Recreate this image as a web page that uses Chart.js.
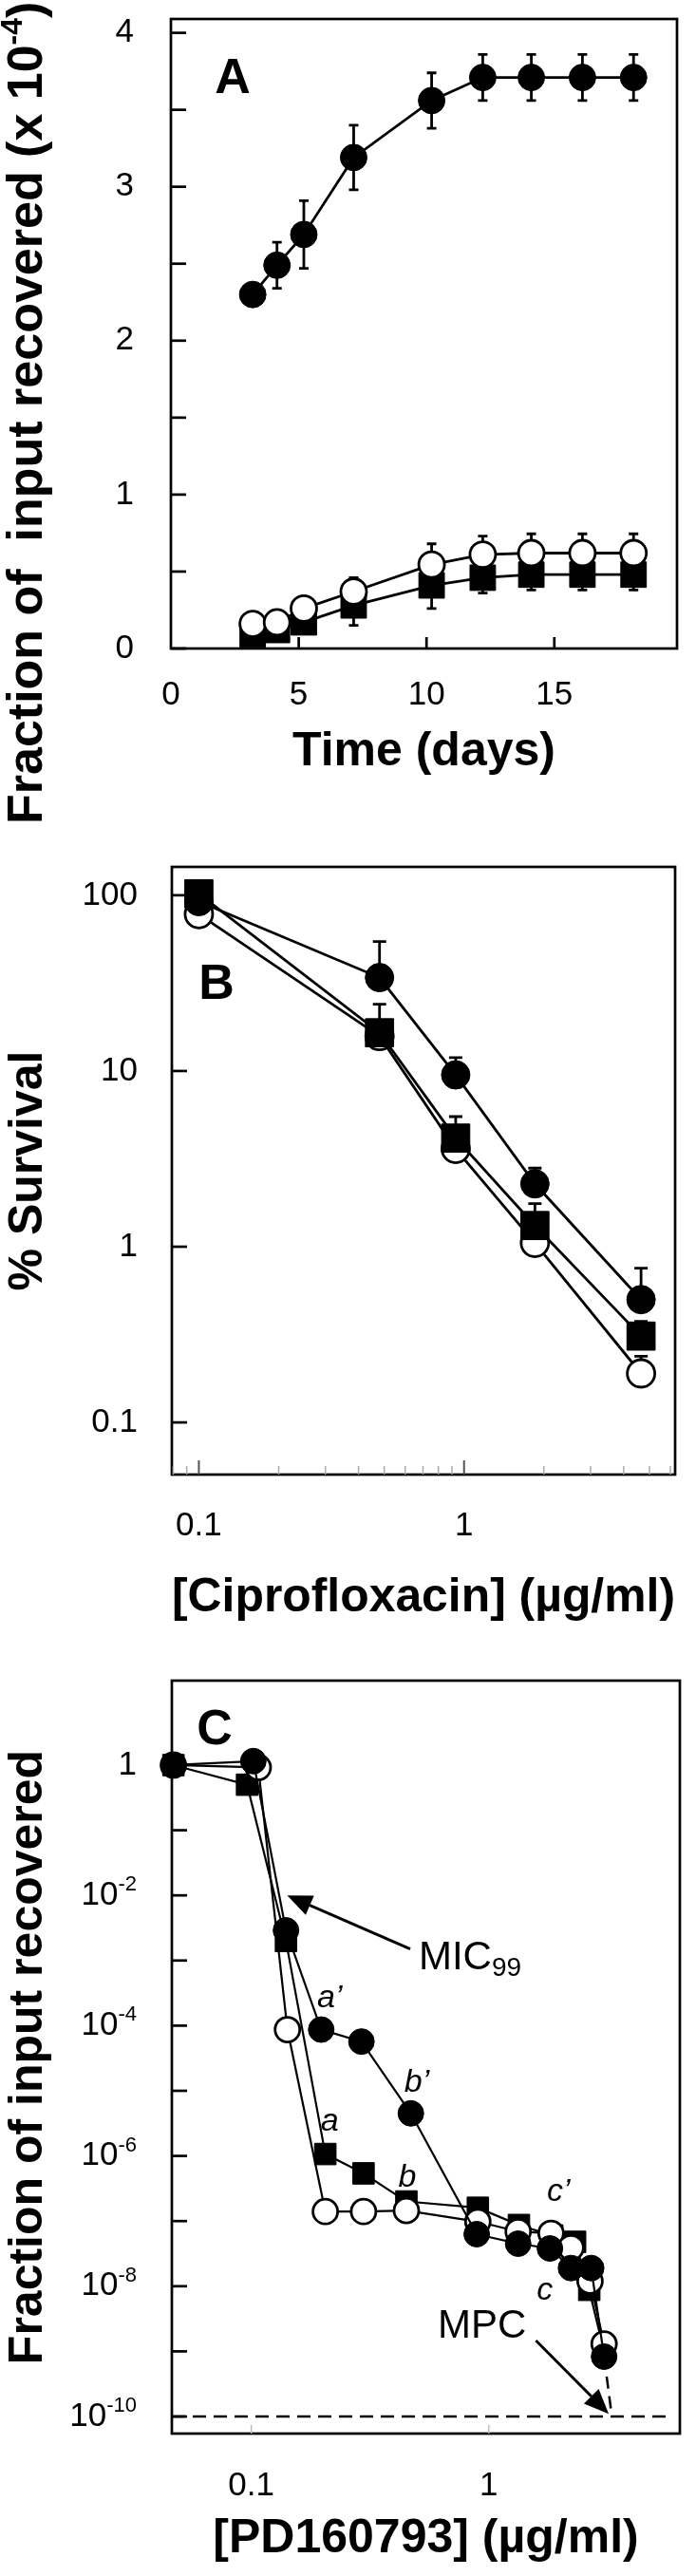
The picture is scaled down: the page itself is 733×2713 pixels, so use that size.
<!DOCTYPE html>
<html lang="en">
<head>
<meta charset="utf-8">
<title>Fraction of input recovered / % survival / MPC</title>
<script src="https://cdn.jsdelivr.net/npm/chart.js@4.4.1/dist/chart.umd.min.js"></script>
<style>
  html, body { margin: 0; padding: 0; background: #ffffff; }
  #page { position: relative; width: 733px; height: 2713px; overflow: hidden; }
  #page canvas { position: absolute; left: 0; display: block; }
  #chart-a { top: 0; }
  #chart-b { top: 880px; }
  #chart-c { top: 1750px; }
</style>
</head>
<body>
<div id="page">
  <canvas id="chart-a" width="733" height="880" style="width:733px;height:880px"></canvas>
  <canvas id="chart-b" width="733" height="870" style="width:733px;height:870px"></canvas>
  <canvas id="chart-c" width="733" height="963" style="width:733px;height:963px"></canvas>
</div>
<script>
// ---- panel A: recovery over time (x 10^-4) ----
var daysA = [3.2, 4.15, 5.2, 7.15, 10.2, 12.2, 14.1, 16.1, 18.1];
var filledA = [2.30, 2.49, 2.69, 3.19, 3.56, 3.71, 3.71, 3.71, 3.71];
var filledAErr = [0, 0.15, 0.22, 0.21, 0.18, 0.15, 0.15, 0.15, 0.15];
var openA = [0.16, 0.17, 0.26, 0.37, 0.545, 0.61, 0.62, 0.62, 0.62];
var openAErrUp = [0, 0, 0, 0.09, 0.135, 0.12, 0.125, 0.125, 0.125];
var squareA = [0.09, 0.12, 0.17, 0.28, 0.41, 0.46, 0.48, 0.48, 0.48];
var squareAErrDown = [0, 0, 0, 0.13, 0.15, 0.10, 0.10, 0.10, 0.10];
var xTicksA = [0, 5, 10, 15];
var xLabelsA = ["0", "5", "10", "15"];
var yTicksA = [0, 0.5, 1, 1.5, 2, 2.5, 3, 3.5, 4];
var yLabelsA = ["0", "", "1", "", "2", "", "3", "", "4"];

// ---- panel B: % survival vs ciprofloxacin ----
var concB = [0.1, 0.48, 0.93, 1.85, 4.65];
var filledB = [92, 34, 9.5, 2.28, 0.50];
var filledBErr = [0, 20.5, 2.4, 0.52, 0.255];
var squareB = [102, 16.5, 4.15, 1.32, 0.31];
var squareBErr = [0, 7.5, 1.35, 0.44, 0.066];
var openB = [78, 15.8, 3.6, 1.05, 0.19];
var openBErr = [0, 0, 0, 0, 0.048];
var xTicksB = [0.08, 0.09, 0.1, 0.2, 0.3, 0.4, 0.5, 0.6, 0.7, 0.8, 0.9, 1, 2, 3, 4, 5, 6];
var xMajorB = [0.1, 1];
var xLabelsB = ["0.1", "1"];
var yTicksB = [0.1, 1, 10, 100];
var yLabelsB = ["0.1", "1", "10", "100"];

// ---- panel C: fraction recovered vs PD160793 ----
var concFilledC = [0.047, 0.102, 0.14, 0.197, 0.291, 0.47, 0.89, 1.33, 1.81, 2.22, 2.70, 3.06];
var filledC = [1.0, 1.15, 2.9e-3, 8.7e-5, 5.7e-5, 4.5e-6, 6.3e-8, 4.5e-8, 3.8e-8, 1.9e-8, 1.9e-8, 8.3e-10];
var concOpenC = [0.047, 0.107, 0.142, 0.205, 0.297, 0.45, 0.90, 1.33, 1.83, 2.22, 2.67, 3.06];
var openC = [1.0, 0.92, 8.7e-5, 1.4e-7, 1.4e-7, 1.45e-7, 9.8e-8, 6.9e-8, 6.5e-8, 3.9e-8, 1.2e-8, 1.3e-9];
var concSquareC = [0.047, 0.096, 0.14, 0.205, 0.297, 0.45, 0.90, 1.34, 1.85, 2.31, 2.65, 3.06];
var squareC = [1.0, 0.5, 2.0e-3, 1.07e-6, 5.4e-7, 2.0e-7, 1.6e-7, 8.7e-8, 6.0e-8, 4.8e-8, 8.8e-9, 1.0e-9];
var mpcLevel = 1e-10;
var mpcConc = 3.3;
var mpcLineEnd = 5.7;
var xTicksC = [0.1, 1];
var xLabelsC = ["0.1", "1"];
var yTicksC = [1e-10, 1e-9, 1e-8, 1e-7, 1e-6, 1e-5, 1e-4, 1e-3, 1e-2, 1e-1, 1];
var yLabelExpC = [-10, -8, -6, -4, -2, 0];

var FONT = "'Liberation Sans', Arial, Helvetica, sans-serif";
var tickFont = { family: FONT, size: 35 };
var titleFont = { family: FONT, size: 50, weight: "bold" };

function pts(xs, ys) {
  return xs.map(function (x, i) { return { x: x, y: ys[i] }; });
}
function setTicks(values) {
  return function (scale) { scale.ticks = values.map(function (v) { return { value: v }; }); };
}
function labelFrom(values, labels) {
  return function (v) {
    for (var i = 0; i < values.length; i++) {
      if (Math.abs(values[i] - v) <= Math.abs(values[i]) * 1e-6 + 1e-12) return labels[i];
    }
    return "";
  };
}
function fixWidth(w) {
  return function (s) { s.width = w; s.paddingTop = 0; s.paddingBottom = 0; s.paddingLeft = 0; s.paddingRight = 0; };
}
function fixHeight(h) {
  return function (s) { s.height = h; s.paddingTop = 0; s.paddingBottom = 0; s.paddingLeft = 0; s.paddingRight = 0; };
}

function filledCircle(r) { return { pointStyle: "circle", pointRadius: r, pointBackgroundColor: "#000", pointBorderColor: "#000", pointBorderWidth: 1 }; }
function openCircle(r) { return { pointStyle: "circle", pointRadius: r, pointBackgroundColor: "#fff", pointBorderColor: "#000", pointBorderWidth: 2.8 }; }
function square(r) { return { pointStyle: "rect", pointRadius: r, pointBackgroundColor: "#000", pointBorderColor: "#000", pointBorderWidth: 1 }; }

function series(data, marker, lineWidth, extra) {
  var ds = { data: data, showLine: true, borderColor: "#000", borderWidth: lineWidth, clip: false, pointHoverRadius: marker.pointRadius };
  Object.assign(ds, marker, extra || {});
  return ds;
}

// box round the plot plus inward tick marks
var framePlugin = {
  id: "frame",
  beforeDatasetsDraw: function (chart, args, opts) {
    var ctx = chart.ctx, a = chart.chartArea;
    ctx.save();
    ctx.strokeStyle = "#000";
    ctx.lineWidth = 2.7;
    ctx.strokeRect(a.left, a.top, a.right - a.left, a.bottom - a.top);
    (opts.marks || []).forEach(function (m) {
      var sc = chart.scales[m.axis];
      ctx.strokeStyle = m.color || "#000";
      ctx.lineWidth = m.width || 2.7;
      m.values.forEach(function (v) {
        var p = sc.getPixelForValue(v);
        ctx.beginPath();
        if (m.axis === "x") { ctx.moveTo(p, a.bottom); ctx.lineTo(p, a.bottom - m.len); }
        else { ctx.moveTo(a.left, p); ctx.lineTo(a.left + m.len, p); }
        ctx.stroke();
      });
    });
    ctx.restore();
  }
};

var errorBarPlugin = {
  id: "errorBars",
  beforeDatasetsDraw: function (chart, args, opts) {
    var ctx = chart.ctx, xs = chart.scales.x, ys = chart.scales.y;
    var cap = opts.cap || 5;
    ctx.save();
    ctx.strokeStyle = "#000";
    ctx.lineWidth = opts.lineWidth || 2.8;
    chart.data.datasets.forEach(function (ds) {
      var up = ds.errUp || [], down = ds.errDown || [];
      ds.data.forEach(function (p, i) {
        var px = xs.getPixelForValue(p.x), py = ys.getPixelForValue(p.y);
        [[up[i], 1], [down[i], -1]].forEach(function (e) {
          if (!e[0]) return;
          var ey = ys.getPixelForValue(p.y + e[1] * e[0]);
          ctx.beginPath();
          ctx.moveTo(px, py); ctx.lineTo(px, ey);
          ctx.moveTo(px - cap, ey); ctx.lineTo(px + cap, ey);
          ctx.stroke();
        });
      });
    });
    ctx.restore();
  }
};

// free text (with sup/subscript parts) and arrows
function drawParts(ctx, it) {
  var total = 0;
  it.parts.forEach(function (p) { ctx.font = p.font; p.w = ctx.measureText(p.t).width; total += p.w; });
  var x = it.align === "center" ? -total / 2 : (it.align === "right" ? -total : 0);
  it.parts.forEach(function (p) {
    ctx.font = p.font;
    ctx.fillText(p.t, x, p.dy || 0);
    x += p.w;
  });
}
var panelTextPlugin = {
  id: "panelText",
  afterDraw: function (chart, args, opts) {
    var ctx = chart.ctx, a = chart.chartArea;
    ctx.save();
    ctx.fillStyle = "#000";
    ctx.strokeStyle = "#000";
    (opts.arrows || []).forEach(function (ar) {
      var x1 = chart.scales.x.getPixelForValue(ar.from[0]), y1 = chart.scales.y.getPixelForValue(ar.from[1]);
      var x2 = chart.scales.x.getPixelForValue(ar.to[0]), y2 = chart.scales.y.getPixelForValue(ar.to[1]);
      var ang = Math.atan2(y2 - y1, x2 - x1), head = 26, half = 11;
      var bx = x2 - head * Math.cos(ang), by = y2 - head * Math.sin(ang);
      ctx.lineWidth = 3;
      ctx.beginPath(); ctx.moveTo(x1, y1); ctx.lineTo(bx, by); ctx.stroke();
      ctx.beginPath();
      ctx.moveTo(x2, y2);
      ctx.lineTo(bx + half * Math.sin(ang), by - half * Math.cos(ang));
      ctx.lineTo(bx - half * Math.sin(ang), by + half * Math.cos(ang));
      ctx.closePath(); ctx.fill();
    });
    (opts.items || []).forEach(function (it) {
      var x, y;
      if (it.data) { x = chart.scales.x.getPixelForValue(it.data[0]); y = chart.scales.y.getPixelForValue(it.data[1]); }
      else if (it.rel) { x = a.left + it.rel[0]; y = a.top + it.rel[1]; }
      else { x = it.x; y = it.y; }
      ctx.save();
      ctx.translate(x, y);
      if (it.rotate) ctx.rotate(it.rotate);
      ctx.textBaseline = "middle";
      ctx.textAlign = "left";
      drawParts(ctx, it);
      ctx.restore();
    });
    if (opts.powerLabels) {
      var ys = chart.scales.y;
      opts.powerLabels.forEach(function (k) {
        var py = ys.getPixelForValue(Math.pow(10, k));
        var parts = k === 0 ? [{ t: "1", font: "35px " + FONT }]
          : [{ t: "10", font: "35px " + FONT }, { t: String(k), font: "22px " + FONT, dy: -11 }];
        ctx.save();
        ctx.translate(a.left - 37, py);
        ctx.textBaseline = "middle";
        ctx.textAlign = "left";
        drawParts(ctx, { parts: parts, align: "right" });
        ctx.restore();
      });
    }
    ctx.restore();
  }
};

var commonPlugins = [framePlugin, errorBarPlugin, panelTextPlugin];
var bold50 = "bold 50px " + FONT;
var bold52 = "bold 52px " + FONT;

// ---- chart A ----
new Chart(document.getElementById("chart-a"), {
  type: "scatter",
  data: {
    datasets: [
      series(pts(daysA, openA), openCircle(13.5), 2.8, { errUp: openAErrUp }),
      series(pts(daysA, squareA), square(19), 2.8, { errDown: squareAErrDown }),
      series(pts(daysA, filledA), filledCircle(14), 2.8, { errUp: filledAErr, errDown: filledAErr })
    ]
  },
  options: {
    responsive: false, animation: false, devicePixelRatio: 1,
    layout: { padding: { left: 0, right: 15, top: 8, bottom: 0 } },
    plugins: {
      legend: { display: false }, tooltip: { enabled: false },
      frame: { marks: [{ axis: "x", values: [5, 10, 15], len: 12 }, { axis: "y", values: yTicksA, len: 16 }] },
      errorBars: { cap: 5, lineWidth: 2.8 },
      panelText: {
        items: [
          { rel: [65, 64], align: "center", parts: [{ t: "A", font: bold52 }] },
          { x: 30, y: 868, rotate: -Math.PI / 2, align: "left",
            parts: [{ t: "Fraction of  input recovered (x 10", font: bold52 }, { t: "-4", font: "bold 32px " + FONT, dy: -16 }, { t: ")", font: bold52 }] }
        ]
      }
    },
    scales: {
      x: {
        type: "linear", bounds: "data", min: 0, max: 19.8,
        afterBuildTicks: setTicks(xTicksA), afterFit: fixHeight(197),
        grid: { display: false, drawTicks: false }, border: { display: false },
        ticks: { font: tickFont, color: "#000", padding: 28, maxRotation: 0, minRotation: 0, autoSkip: false, callback: labelFrom(xTicksA, xLabelsA) },
        title: { display: true, text: "Time (days)", font: titleFont, color: "#000", padding: { top: 0, bottom: 58 } }
      },
      y: {
        type: "linear", bounds: "data", min: 0, max: 4.09,
        afterBuildTicks: setTicks(yTicksA), afterFit: fixWidth(180),
        grid: { display: false, drawTicks: false }, border: { display: false },
        ticks: { font: tickFont, color: "#000", padding: 39, autoSkip: false, callback: labelFrom(yTicksA, yLabelsA) }
      }
    }
  },
  plugins: commonPlugins
});

// ---- chart B ----
new Chart(document.getElementById("chart-b"), {
  type: "scatter",
  data: {
    datasets: [
      series(pts(concB, squareB), square(21), 2.8, { errUp: squareBErr }),
      series(pts(concB, filledB), filledCircle(15), 2.8, { errUp: filledBErr }),
      series(pts(concB, openB), openCircle(14.5), 2.8, { errUp: openBErr })
    ]
  },
  options: {
    responsive: false, animation: false, devicePixelRatio: 1,
    layout: { padding: { left: 0, right: 15, top: 33, bottom: 0 } },
    plugins: {
      legend: { display: false }, tooltip: { enabled: false },
      frame: { marks: [
        { axis: "x", values: xTicksB.filter(function (v) { return xMajorB.indexOf(v) < 0; }), len: 9, color: "#aaaaaa", width: 1.5 },
        { axis: "x", values: xMajorB, len: 15, color: "#555555", width: 2 },
        { axis: "y", values: yTicksB, len: 16 }
      ] },
      errorBars: { cap: 7, lineWidth: 2.8 },
      panelText: { items: [{ rel: [47, 125], align: "center", parts: [{ t: "B", font: bold52 }] }] }
    },
    scales: {
      x: {
        type: "logarithmic", bounds: "data", min: 0.0791, max: 6.25,
        afterBuildTicks: setTicks(xTicksB), afterFit: fixHeight(197),
        grid: { display: false, drawTicks: false }, border: { display: false },
        ticks: { font: tickFont, color: "#000", padding: 33, maxRotation: 0, minRotation: 0, autoSkip: false, callback: labelFrom(xMajorB, xLabelsB) },
        title: { display: true, text: "[Ciprofloxacin] (\u00b5g/ml)", font: titleFont, color: "#000", padding: { top: 0, bottom: 37 } }
      },
      y: {
        type: "logarithmic", bounds: "data", min: 0.0505, max: 145,
        afterBuildTicks: setTicks(yTicksB), afterFit: fixWidth(181),
        grid: { display: false, drawTicks: false }, border: { display: false },
        ticks: { font: tickFont, color: "#000", padding: 36, autoSkip: false, callback: labelFrom(yTicksB, yLabelsB) },
        title: { display: true, text: "% Survival", font: titleFont, color: "#000", padding: 0 }
      }
    }
  },
  plugins: commonPlugins
});

// ---- chart C ----
var italic34 = "italic 34px " + FONT;
new Chart(document.getElementById("chart-c"), {
  type: "scatter",
  data: {
    datasets: [
      series(pts(concFilledC, filledC), filledCircle(13.5), 2.2),
      series(pts(concOpenC, openC), openCircle(13), 2.2),
      series(pts(concSquareC, squareC), square(16), 2.2),
      { data: [{ x: concFilledC[concFilledC.length - 1], y: filledC[filledC.length - 1] }, { x: mpcConc, y: mpcLevel }],
        showLine: true, borderColor: "#000", borderWidth: 2.5, borderDash: [13, 8], pointRadius: 0, clip: false },
      { data: [{ x: 0.0463, y: mpcLevel }, { x: mpcLineEnd, y: mpcLevel }],
        showLine: true, borderColor: "#000", borderWidth: 2.5, borderDash: [14, 8], pointRadius: 0, clip: false }
    ]
  },
  options: {
    responsive: false, animation: false, devicePixelRatio: 1,
    layout: { padding: { left: 0, right: 15, top: 20, bottom: 0 } },
    plugins: {
      legend: { display: false }, tooltip: { enabled: false },
      frame: { marks: [
        { axis: "x", values: xTicksC, len: 9, color: "#bbbbbb", width: 1.5 },
        { axis: "y", values: yTicksC, len: 16 }
      ] },
      errorBars: { cap: 5 },
      panelText: {
        powerLabels: yLabelExpC,
        arrows: [
          { from: [0.467, 1.5e-3], to: [0.1417, 1e-2] },
          { from: [1.58, 1.47e-9], to: [3.2, 1.1e-10] }
        ],
        items: [
          { rel: [45, 53], align: "center", parts: [{ t: "C", font: bold52 }] },
          { data: [0.507, 1.1e-3], align: "left", parts: [{ t: "MIC", font: "42px " + FONT }, { t: "99", font: "28px " + FONT, dy: 11 }] },
          { data: [1.44, 2.4e-9], align: "right", parts: [{ t: "MPC", font: "42px " + FONT }] },
          { data: [0.214, 2.6e-4], align: "center", parts: [{ t: "a\u2019", font: italic34 }] },
          { data: [0.498, 1.35e-5], align: "center", parts: [{ t: "b\u2019", font: italic34 }] },
          { data: [0.214, 3.3e-6], align: "center", parts: [{ t: "a", font: italic34 }] },
          { data: [0.454, 4.6e-7], align: "center", parts: [{ t: "b", font: italic34 }] },
          { data: [1.97, 2.8e-7], align: "center", parts: [{ t: "c\u2019", font: italic34 }] },
          { data: [1.72, 8.4e-9], align: "center", parts: [{ t: "c", font: italic34 }] }
        ]
      }
    },
    scales: {
      x: {
        type: "logarithmic", bounds: "data", min: 0.0463, max: 6.38,
        afterBuildTicks: setTicks(xTicksC), afterFit: fixHeight(150),
        grid: { display: false, drawTicks: false }, border: { display: false },
        ticks: { font: tickFont, color: "#000", padding: 34, maxRotation: 0, minRotation: 0, autoSkip: false, callback: labelFrom(xTicksC, xLabelsC) },
        title: { display: true, text: "[PD160793] (\u00b5g/ml)", font: titleFont, color: "#000", padding: { top: 0, bottom: 9 } }
      },
      y: {
        type: "logarithmic", bounds: "data", min: 5.47e-11, max: 19.8,
        afterBuildTicks: setTicks(yTicksC), afterFit: fixWidth(181),
        grid: { display: false, drawTicks: false }, border: { display: false },
        ticks: { display: false },
        title: { display: true, text: "Fraction of input recovered", font: titleFont, color: "#000", padding: 0 }
      }
    }
  },
  plugins: commonPlugins
});
</script>
</body>
</html>
